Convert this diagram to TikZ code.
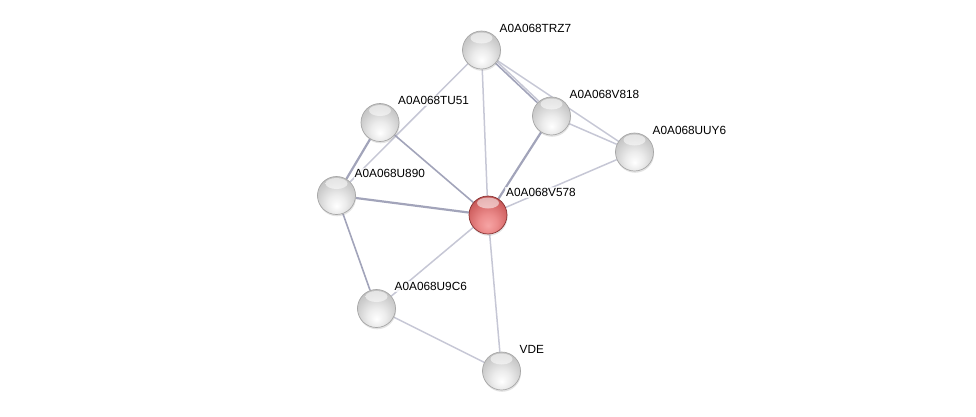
\documentclass[tikz,border=0pt]{standalone}
\usepackage{fontspec}
\setmainfont{Liberation Sans}
\usetikzlibrary{backgrounds,shadows}
\definecolor{rb0}{HTML}{F6A4A4}
\definecolor{rb1}{HTML}{EC8C8C}
\definecolor{rb2}{HTML}{D26464}
\definecolor{rb3}{HTML}{A83C3C}
\pgfdeclareradialshading{ballgray}{\pgfpoint{0bp}{-14bp}}{color(0bp)=(white); color(12bp)=(gray!15); color(26bp)=(gray!40); color(40bp)=(gray!60); color(60bp)=(gray!60)}
\pgfdeclareradialshading{ballred}{\pgfpoint{0bp}{-14bp}}{color(0bp)=(rb0); color(12bp)=(rb1); color(26bp)=(rb2); color(40bp)=(rb3); color(60bp)=(rb3)}
\definecolor{edgedark}{HTML}{A2A4BA}
\definecolor{edgelight}{HTML}{C6C7D5}
\tikzset{
  ball/.style={circle,minimum size=38pt,inner sep=0pt,shading=ballgray,draw=gray!70,line width=0.7pt,
    drop shadow={shadow xshift=0.6pt,shadow yshift=-1.8pt,opacity=0.22},
    path picture={\shade[top color=white,bottom color=white,opacity=0.55] ([yshift=-7pt]path picture bounding box.north) ellipse (11pt and 5.5pt);}},
  redball/.style={ball,shading=ballred,draw=rb3!80!black},
  lbl/.style={anchor=west,font=\fontsize{11.8}{12}\selectfont,inner sep=1pt,fill=white,fill opacity=0.75,text opacity=1},
  thickedge/.style={draw=edgedark,line width=2.2pt},
  midedge/.style={draw=edgedark,line width=1.6pt},
  thinedge/.style={draw=edgelight,line width=1.5pt},
}
\begin{document}
\begin{tikzpicture}[x=1pt,y=-1pt]
\useasboundingbox (0,0) rectangle (976,416);
\node[ball] (trz7) at (481.5,50) {};
\node[ball] (v818) at (551.5,116) {};
\node[ball] (uuy6) at (634.5,152) {};
\node[ball] (tu51) at (380,122.5) {};
\node[ball] (u890) at (336.5,195.5) {};
\node[redball] (v578) at (488,215) {};
\node[ball] (u9c6) at (376.5,308.5) {};
\node[ball] (vde) at (501.5,371) {};
\begin{scope}[on background layer]
\draw[thinedge] (trz7) -- (v578);
\draw[thinedge] (trz7) -- (u890);
\draw[thinedge] (trz7) -- (uuy6);
\draw[thinedge] (v818) -- (uuy6);
\draw[thinedge] (uuy6) -- (v578);
\draw[thinedge] (u9c6) -- (v578);
\draw[thinedge] (u9c6) -- (vde);
\draw[thinedge] (v578) -- (vde);
\draw[midedge] (tu51) -- (v578);
\draw[midedge] (u890) -- (u9c6);
\draw[thickedge] (tu51) -- (u890);
\draw[thickedge] (u890) -- (v578);
\draw[thickedge] (v818) -- (v578);
\draw[midedge] (trz7) -- (v818);
\draw[thinedge,transform canvas={xshift=1.5pt,yshift=1.5pt}] (trz7) -- (v818);
\end{scope}
\node[lbl] (ltrz7) at (498.5,28) {A0A068TRZ7};
\node[lbl] (lv818) at (568.5,94) {A0A068V818};
\node[lbl] (luuy6) at (651.5,130) {A0A068UUY6};
\node[lbl] (ltu51) at (397,100.5) {A0A068TU51};
\node[lbl] (lu890) at (353.5,173.5) {A0A068U890};
\node[lbl] (lv578) at (505,192.5) {A0A068V578};
\node[lbl] (lu9c6) at (393.5,286.5) {A0A068U9C6};
\node[lbl] (lvde) at (518.5,349) {VDE};
\end{tikzpicture}
\end{document}
